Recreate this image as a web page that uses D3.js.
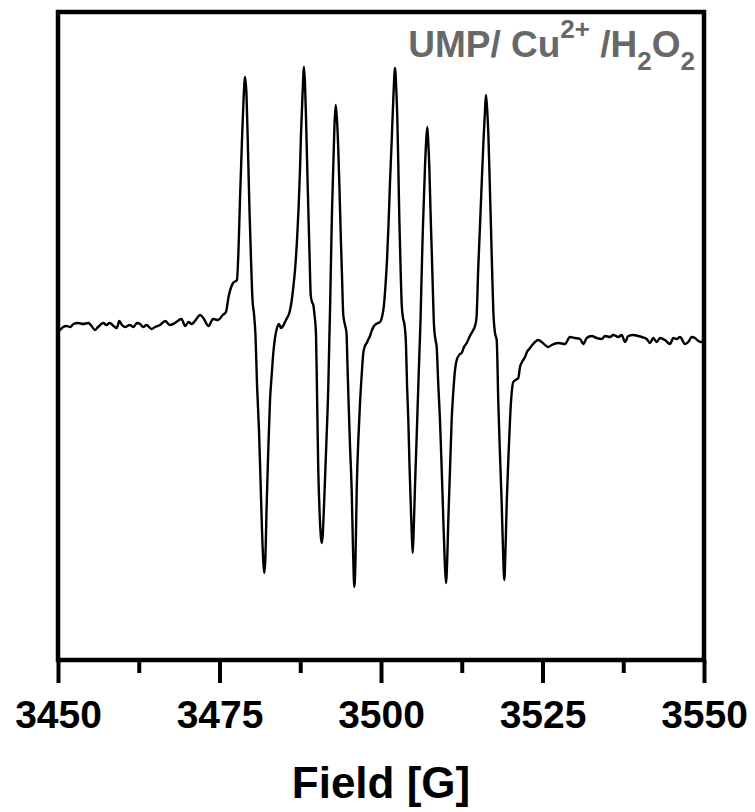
<!DOCTYPE html>
<html>
<head>
<meta charset="utf-8">
<script src="https://cdn.jsdelivr.net/npm/d3@7"></script>
<style>
  body { margin: 0; background: #fff; }
  text { font-family: "Liberation Sans", Arial, sans-serif; font-weight: bold; }
</style>
</head>
<body>
<div class="chart"></div>
<script>
var width = 755, height = 812;

// x axis ticks (Gauss)
var majorTicks = [3450, 3475, 3500, 3525, 3550];
var minorTicks = [3462.5, 3487.5, 3512.5, 3537.5];
var fieldRange = [3450, 3550];
var intensityRange = [-327, 321];

// EPR spectrum: [field G, intensity a.u.]
var spectrum = [
  [3450.0,2],[3450.3,3],[3450.8,6],[3451.3,7],[3451.9,6],[3452.4,9],[3453.1,10],[3453.9,9],[3454.7,10],
  [3455.2,7],[3455.7,3],[3456.2,6],[3457.0,10],[3457.5,8],[3458.0,10],[3458.6,7],[3459.1,5],[3459.5,12],
  [3459.9,8],[3460.4,6],[3461.1,8],[3461.7,6],[3462.2,10],[3462.7,9],[3463.2,6],[3463.7,8],[3464.5,4],
  [3465.0,6],[3465.8,8],[3466.6,12],[3467.3,8],[3468.1,10],[3469.1,14],[3469.7,7],[3470.2,11],[3470.7,9],
  [3471.2,12],[3472.0,18],[3472.5,15],[3473.3,7],[3474.0,14],[3474.8,13],[3475.5,18],[3476.0,21],
  [3476.4,36],[3477.1,50],[3477.7,53],
  [3477.94,83],[3478.17,133],[3478.48,193],[3478.72,233],[3478.95,256],[3479.18,238],[3479.41,183],
  [3479.64,123],[3479.88,73],[3480.11,33],[3480.34,19],[3480.57,-2],[3480.81,-52],[3481.11,-97],
  [3481.35,-147],[3481.58,-197],[3481.81,-232],[3481.94,-240],[3482.09,-227],[3482.31,-170],[3482.55,-117],
  [3482.82,-67],[3483.08,-42],[3483.33,-20],[3483.59,-5],[3483.90,5],[3484.21,9],[3484.52,5],[3484.83,7],
  [3485.14,11],[3485.45,15],[3485.76,19],[3486.07,28],[3486.38,43],[3486.69,63],[3487.00,93],[3487.23,123],
  [3487.46,163],[3487.62,200],[3487.85,238],[3488.08,266],[3488.24,248],[3488.39,216],[3488.59,163],
  [3488.78,116],[3488.96,73],[3489.12,38],[3489.32,31],[3489.52,28],[3489.71,18],[3489.94,-2],[3490.09,-57],
  [3490.29,-137],[3490.48,-177],[3490.71,-205],[3490.84,-210],[3490.98,-202],[3491.15,-177],[3491.33,-147],
  [3491.56,-107],[3491.84,-54],[3492.00,-7],[3492.11,23],[3492.26,73],[3492.42,123],[3492.62,168],
  [3492.80,208],[3492.99,228],[3493.19,213],[3493.39,183],[3493.58,143],[3493.76,100],[3493.96,58],
  [3494.16,18],[3494.43,8],[3494.66,0],[3494.81,-32],[3494.97,-67],[3495.20,-112],[3495.46,-157],
  [3495.67,-217],[3495.87,-254],[3496.05,-227],[3496.24,-157],[3496.49,-107],[3496.75,-70],[3497.01,-42],
  [3497.26,-20],[3497.52,-13],[3497.79,-10],[3498.07,-6],[3498.30,-3],[3498.61,3],[3498.92,7],[3499.23,9],
  [3499.54,10],[3499.85,11],[3500.16,16],[3500.46,28],[3500.70,48],[3500.93,73],[3501.16,108],[3501.39,150],
  [3501.66,193],[3501.90,233],[3502.17,265],[3502.37,243],[3502.52,216],[3502.68,168],[3502.83,116],
  [3503.02,68],[3503.21,28],[3503.41,15],[3503.64,8],[3503.87,-12],[3504.03,-52],[3504.23,-87],[3504.41,-132],
  [3504.60,-170],[3504.77,-202],[3504.91,-220],[3505.06,-197],[3505.26,-154],[3505.53,-102],[3505.77,-54],
  [3505.96,-17],[3506.12,13],[3506.27,53],[3506.46,100],[3506.66,138],[3506.81,166],[3507.00,193],
  [3507.17,206],[3507.32,190],[3507.48,166],[3507.66,123],[3507.85,83],[3508.05,38],[3508.20,8],
  [3508.44,-7],[3508.62,-14],[3508.87,-52],[3509.13,-87],[3509.40,-137],[3509.65,-187],[3509.86,-227],
  [3510.06,-250],[3510.25,-227],[3510.42,-187],[3510.68,-137],[3510.94,-87],[3511.19,-59],[3511.46,-37],
  [3511.72,-27],[3512.00,-23],[3512.23,-21],[3512.49,-20],[3512.85,-14],[3513.27,-10],[3513.62,-5],
  [3513.93,-1],[3514.29,3],[3514.55,7],[3514.78,15],[3515.06,66],[3515.33,108],[3515.59,150],[3515.87,193],
  [3516.10,223],[3516.25,238],[3516.44,223],[3516.61,200],[3516.80,158],[3516.98,116],[3517.18,68],
  [3517.38,23],[3517.65,0],[3517.91,-7],[3518.16,-70],[3518.42,-122],[3518.68,-170],[3518.89,-217],
  [3519.09,-247],[3519.27,-217],[3519.46,-170],[3519.71,-127],[3519.97,-87],[3520.20,-62],[3520.48,-49],
  [3520.82,-47],[3521.25,-45],[3521.52,-34],[3521.83,-29],[3522.29,-24],[3522.60,-19],[3523.07,-15],
  [3523.84,-9],[3524.35,-7],[3524.88,-9],[3525.90,-14],[3526.42,-12],[3527.45,-10],[3528.48,-11],
  [3529.26,-4],[3530.03,-5],[3530.81,-6],[3531.32,-11],[3531.84,-5],[3532.62,-3],[3533.39,-5],[3534.17,-6],
  [3534.68,-3],[3535.45,-4],[3535.96,-2],[3536.74,-4],[3537.26,-2],[3537.77,-9],[3538.28,-3],[3539.06,-2],
  [3539.83,-3],[3540.36,-4],[3541.13,-6],[3541.64,-10],[3542.15,-5],[3542.68,-9],[3543.19,-5],[3543.96,-7],
  [3544.74,-11],[3545.25,-5],[3545.77,-6],[3546.29,-4],[3547.06,-11],[3547.57,-9],[3548.10,-4],[3548.61,-5],
  [3549.12,-8],[3549.64,-9],[3550.00,-8]
];

var svg = d3.select('.chart').append('svg')
  .attr('width', width)
  .attr('height', height);

var x = d3.scaleLinear().domain(fieldRange).range([58, 704]);
var y = d3.scaleLinear().domain(intensityRange).range([660, 12]);

// spectrum trace
var line = d3.line()
  .x(function(d) { return x(d[0]); })
  .y(function(d) { return y(d[1]); })
  .curve(d3.curveMonotoneX);

svg.append('path')
  .datum(spectrum)
  .attr('d', line)
  .attr('fill', 'none')
  .attr('stroke', '#000')
  .attr('stroke-width', 2.4)
  .attr('stroke-linejoin', 'round');

// frame
svg.append('rect')
  .attr('x', x(fieldRange[0]))
  .attr('y', y(intensityRange[1]))
  .attr('width', x(fieldRange[1]) - x(fieldRange[0]))
  .attr('height', y(intensityRange[0]) - y(intensityRange[1]))
  .attr('fill', 'none')
  .attr('stroke', '#000')
  .attr('stroke-width', 4.5);

// minor ticks
var minorAxis = svg.append('g')
  .attr('transform', 'translate(0,' + y(intensityRange[0]) + ')')
  .call(d3.axisBottom(x).tickValues(minorTicks).tickSize(13).tickFormat(''));

// major ticks + labels
var majorAxis = svg.append('g')
  .attr('transform', 'translate(0,' + y(intensityRange[0]) + ')')
  .call(d3.axisBottom(x).tickValues(majorTicks).tickSize(23).tickPadding(17).tickFormat(d3.format('d')));

[minorAxis, majorAxis].forEach(function(g) {
  g.select('.domain').remove();
  g.selectAll('.tick line').attr('stroke', '#000').attr('stroke-width', 4);
});

majorAxis.selectAll('.tick text')
  .attr('fill', '#000')
  .style('font-size', '39px')
  .style('font-family', '"Liberation Sans", Arial, sans-serif')
  .style('font-weight', 'bold');

// axis title
svg.append('text')
  .attr('x', (x(fieldRange[0]) + x(fieldRange[1])) / 2)
  .attr('y', 798)
  .attr('text-anchor', 'middle')
  .style('font-size', '44px')
  .text('Field [G]');

// sample annotation
var note = svg.append('text')
  .attr('x', 695)
  .attr('y', 57)
  .attr('text-anchor', 'end')
  .attr('fill', '#686868')
  .style('font-size', '37px');

note.append('tspan').text('UMP/ Cu');
note.append('tspan').attr('dy', -19).style('font-size', '26px').text('2+');
note.append('tspan').attr('dy', 19).text(' /H');
note.append('tspan').attr('dy', 13).style('font-size', '26px').text('2');
note.append('tspan').attr('dy', -13).text('O');
note.append('tspan').attr('dy', 13).style('font-size', '26px').text('2');
</script>
</body>
</html>
